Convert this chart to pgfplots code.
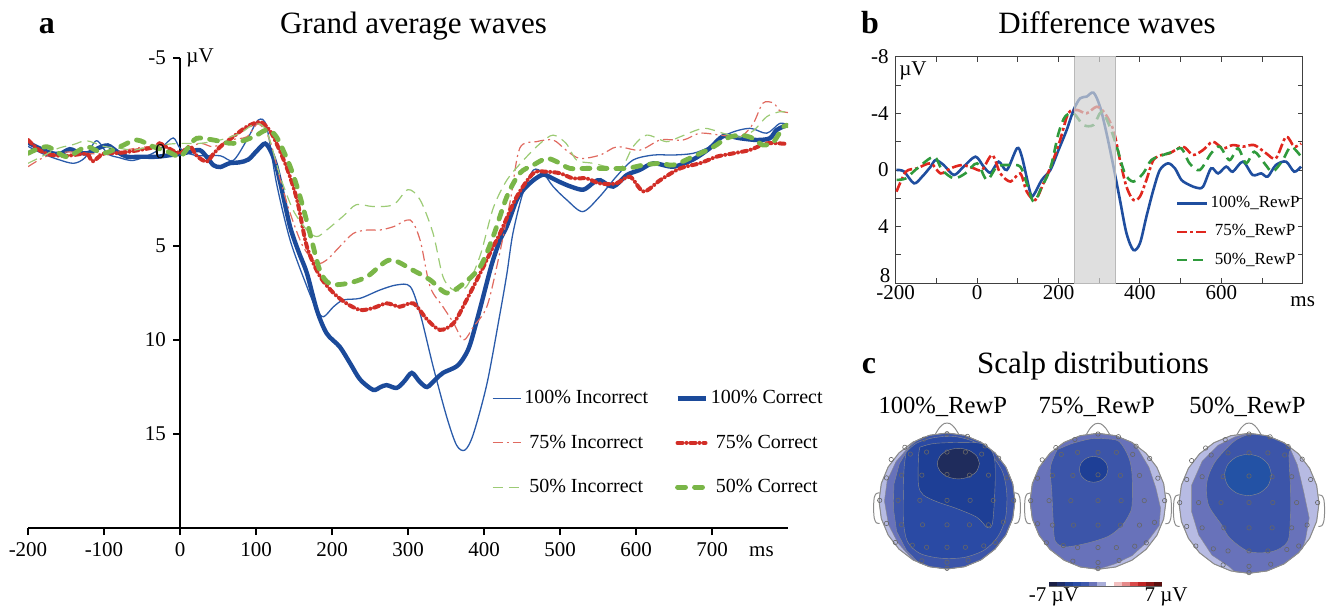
\documentclass[border=0pt]{standalone}
\usepackage{fontspec}
\setmainfont{Liberation Serif}
\usepackage{pgfplots}
\usepackage{pgfplotstable}
\pgfplotsset{compat=1.18}

\definecolor{cblue}{HTML}{1B4A9A}
\definecolor{cred}{HTML}{D22E27}
\definecolor{cgreen}{HTML}{7AB648}
\definecolor{tblue}{HTML}{2A5BAA}
\definecolor{tred}{HTML}{E06A60}
\definecolor{tgreen}{HTML}{9CCB75}
\definecolor{bblue}{HTML}{1F4E9F}
\definecolor{bred}{HTML}{E0271F}
\definecolor{bgreen}{HTML}{2F9A3C}
\definecolor{s0}{HTML}{B7BBE3}
\definecolor{s1}{HTML}{6872BA}
\definecolor{s2}{HTML}{3C55A9}
\definecolor{s3}{HTML}{2A4AA4}
\definecolor{s4}{HTML}{1E3F96}
\definecolor{s5}{HTML}{1F2C5C}
\definecolor{s6}{HTML}{2352A5}

% ---------- panel a: grand averages (ms, microvolt) ----------
\pgfplotstableread{
t v
-200 -0.3
-180 0.1
-160 0.4
-140 0.6
-125 0.3
-110 -0.6
-95 0.1
-80 0.3
-62 0.45
-40 0.15
-25 -0.2
-9 -0.75
0 -0.2
13 0.1
26 0.2
53 0.2
70 0.45
88 -0.64
103 -1.7
114 -1.35
127 1.67
145 4.7
167 7.16
180 8.4
189 8.76
202 8.23
215 7.87
237 7.78
263 7.34
285 7.07
303 7.16
316 8.6
333 11.4
351 14.1
364 15.6
375 15.85
386 15.0
404 12.3
421 8.6
430 6.5
438 4.33
451 2.2
465 0.96
478 1.13
491 1.84
509 2.55
530 3.17
552 2.38
574 1.31
596 0.43
623 0.16
649 0.16
675 0.07
697 -0.28
723 -0.99
750 -1.26
772 -1.0
789 -1.52
800 -1.44
}\dAinc

\pgfplotstableread{
t v
-200 -0.5
-185 -0.2
-170 0.05
-158 0.1
-145 -0.15
-132 0.05
-120 0.05
-108 -0.2
-95 -0.35
-82 0.0
-70 0.25
-50 0.25
-30 0.25
-10 0.15
0 0.1
12 0.0
26 -0.1
36 0.3
44 0.7
53 0.8
65 0.6
78 0.55
90 0.4
102 -0.1
112 -0.45
120 0.0
127 0.8
135 2.2
145 4.0
156 5.3
167 6.45
180 8.4
193 9.65
210 10.35
224 11.25
237 12.1
254 12.65
264 12.5
272 12.4
285 12.55
295 12.2
305 11.75
315 12.2
325 12.5
336 12.1
346 11.75
364 11.4
374 10.9
382 10.2
395 8.3
410 6.0
421 4.7
430 3.95
443 2.55
452 2.0
465 1.5
478 1.2
490 1.4
500 1.6
515 1.85
531 2.0
545 1.6
553 1.5
570 1.84
588 1.22
605 0.95
623 0.6
649 0.78
675 0.4
697 -0.2
715 -0.85
737 -0.73
759 -0.64
776 -0.73
785 -1.17
798 -1.43
}\dAcor

\pgfplotstableread{
t v
-200 0.78
-180 0.3
-160 0.05
-140 0.0
-110 0.1
-80 -0.05
-50 -0.25
-25 -0.3
0 -0.05
26 -0.46
44 -0.28
66 -0.64
88 -0.81
103 -1.5
118 -0.64
132 1.49
145 3.26
162 5.04
180 5.9
193 5.74
210 5.04
228 4.33
246 4.15
263 4.15
281 3.97
303 3.62
316 4.7
329 7.16
346 8.23
360 9.1
373 10.0
386 9.3
404 8.2
420 5.5
435 2.5
447 -0.2
469 -0.55
491 -0.64
508 -0.1
526 0.34
553 0.16
575 -0.28
605 -0.1
632 -0.64
662 -0.64
684 -1.0
711 -0.9
737 -0.81
754 -1.5
767 -2.6
781 -2.6
789 -2.2
800 -2.1
}\dBinc

\pgfplotstableread{
t v
-200 -0.64
-185 -0.1
-170 0.15
-149 0.2
-123 0.1
-115 0.5
-101 0.1
-80 0.05
-62 -0.05
-35 -0.25
-27 -0.46
-15 -0.2
0 0.07
13 -0.3
22 0.2
35 0.51
44 0.1
53 -0.28
70 -0.81
88 -1.35
105 -1.6
115 -1.3
123 -0.8
140 0.78
154 2.55
167 5.04
184 6.6
202 7.5
219 8.05
237 8.4
254 8.3
272 8.05
289 8.23
307 8.05
325 8.9
342 9.46
360 9.1
377 7.87
395 6.45
412 5.04
421 4.33
443 2.38
465 1.13
482 1.05
500 1.13
517 1.4
535 1.4
552 1.67
574 1.67
592 1.31
610 2.1
632 1.49
658 0.87
684 0.6
706 0.25
728 0.07
750 -0.11
772 -0.46
798 -0.43
}\dBcor

\pgfplotstableread{
t v
-200 0.6
-180 0.2
-160 -0.2
-140 -0.4
-123 -0.6
-100 -0.3
-80 -0.2
-60 -0.1
-40 -0.3
-20 -0.4
0 -0.46
26 -0.46
53 -0.64
79 -1.0
99 -1.5
114 -1.1
132 1.31
149 3.1
167 4.15
180 4.5
193 4.15
215 3.4
232 2.8
254 2.9
281 2.8
300 2.0
316 2.55
333 4.33
346 6.63
360 7.34
377 7.16
395 5.5
412 3.0
430 1.5
452 0.43
474 -0.46
491 -0.9
508 -0.46
522 0.43
544 0.6
579 0.85
596 -0.28
614 -0.9
640 -0.55
658 -0.81
689 -1.26
715 -0.99
737 -0.8
755 -1.15
772 -1.88
789 -2.14
800 -2.1
}\dCinc

\pgfplotstableread{
t v
-200 0.07
-175 -0.28
-149 0.25
-123 -0.28
-101 0.07
-79 -0.28
-57 -0.64
-35 -0.28
-15 0.0
0 0.25
10 -0.2
22 -0.73
44 -0.64
70 -0.46
97 -0.81
114 -1.17
127 -0.8
145 0.78
158 2.38
171 4.33
184 6.3
197 7.0
219 7.0
246 6.63
276 5.74
307 6.3
329 6.8
351 7.5
373 7.0
395 6.1
412 4.5
430 2.38
447 1.13
465 0.69
482 0.34
496 0.52
513 0.87
535 0.87
561 0.87
588 0.87
610 0.69
632 0.6
649 0.69
675 0.25
702 -0.28
719 -0.73
737 -0.9
754 -0.73
767 -0.37
781 -0.55
794 -1.35
800 -1.4
}\dCcor

% ---------- panel b: difference waves ----------
\pgfplotstableread{
t v
-198 0
-180 0.1
-155 0.94
-135 0.47
-114 -0.24
-102 -0.7
-82 -0.35
-57 0.35
-33 -0.24
-4 -0.94
16 -0.24
33 0.19
53 -0.59
73 0
98 -1.53
110 -0.94
131 1.65
139 1.76
159 0.7
180 0
200 -1.41
220 -2.82
237 -4.24
253 -5.06
269 -5.18
286 -5.46
302 -4.47
318 -2.59
335 -0.24
351 2.12
367 4.47
384 5.65
400 5.18
416 3.29
433 1.41
449 0
469 -0.47
486 -0.12
502 0.7
522 1.06
539 1.25
555 1.18
575 -0.12
592 0.24
612 -0.24
628 0.12
653 -0.59
677 0.35
698 0.24
714 0.47
734 -0.35
759 -0.59
779 0.12
796 -0.24
}\eA

\pgfplotstableread{
t v
-198 1.53
-175 0.12
-147 -0.12
-114 -0.47
-90 0.24
-65 -0.12
-37 -0.35
-8 -0.12
12 0
37 -1.06
57 0.24
82 0.82
106 0.24
122 1.53
143 2.12
163 0.94
184 -0.47
204 -2.12
224 -4.0
245 -4.24
269 -4.0
294 -4.47
314 -4.0
335 -2.82
351 -0.7
367 1.18
384 2.12
400 1.88
416 0.7
433 -0.7
453 -1.06
473 -1.18
506 -1.65
530 -1.06
555 -1.41
579 -2.0
604 -1.53
628 -1.76
653 -1.65
681 -1.76
710 -1.18
734 -0.82
759 -2.35
779 -1.65
796 -1.88
}\eB

\pgfplotstableread{
t v
-198 0.7
-175 0.59
-147 -0.12
-106 -0.94
-86 0
-57 0.59
-29 0.24
0 -0.47
24 0.7
49 -0.24
78 -0.35
106 -0.24
122 0.94
139 2.24
159 1.18
180 -0.12
200 -2.59
216 -3.76
237 -4.0
261 -3.18
286 -3.18
306 -4.12
326 -3.06
343 -1.65
363 0.24
384 0.82
408 0.24
428 -0.7
457 -1.06
481 -1.29
502 -1.53
522 -0.47
547 0
575 -1.18
596 -1.65
620 -0.7
641 -1.53
661 -0.47
681 -1.29
706 -0.47
726 0.12
751 -0.7
771 -1.65
796 -0.94
}\eC

% ---------- panel c: scalp maps (head radius = 1) ----------
\pgfplotstableread{
x y
1 0
0.966 0.259
0.866 0.5
0.707 0.707
0.5 0.866
0.259 0.966
0 1
-0.259 0.966
-0.5 0.866
-0.707 0.707
-0.866 0.5
-0.966 0.259
-1 0
-0.966 -0.259
-0.866 -0.5
-0.707 -0.707
-0.5 -0.866
-0.259 -0.966
0 -1
0.259 -0.966
0.5 -0.866
0.707 -0.707
0.866 -0.5
0.966 -0.259
1 0
}\tabHead

\pgfplotstableread{
x y
-0.99 0.12
-1.04 0.11
-1.07 0.05
-1.08 -0.1
-1.07 -0.25
-1.04 -0.32
-0.99 -0.33
}\tabEarL

\pgfplotstableread{
x y
0.99 0.12
1.04 0.11
1.07 0.05
1.08 -0.1
1.07 -0.25
1.04 -0.32
0.99 -0.33
}\tabEarR

\pgfplotstableread{
x y
-0.17 0.985
-0.11 1.08
-0.04 1.14
0.04 1.14
0.11 1.08
0.17 0.985
}\tabNose

\pgfplotstableread{
x y
-0.34 0.91
0 0.99
0.30 0.95
-0.62 0.79
0.56 0.81
-0.82 0.61
-0.54 0.69
-0.30 0.72
0 0.72
0.27 0.72
0.51 0.69
0.76 0.63
-0.89 0.34
-0.67 0.38
-0.37 0.38
0 0.39
0.33 0.38
0.61 0.38
0.88 0.34
-0.99 0.01
-0.72 0.01
-0.40 0.01
0 0.01
0.34 0.01
0.68 0.01
0.98 0.01
-0.89 -0.33
-0.67 -0.35
-0.36 -0.35
0 -0.35
0.33 -0.35
0.61 -0.35
0.83 -0.31
-0.76 -0.61
-0.51 -0.65
-0.30 -0.68
0 -0.68
0.27 -0.68
0.54 -0.66
0.71 -0.61
-0.37 -0.88
0 -0.9
0.31 -0.87
0 -0.99
}\tabElec

% head 1 (100%)
\pgfplotstableread{
x y
-0.5 0.866
-0.259 0.966
0 1
0.259 0.966
0.5 0.866
0.707 0.707
0.866 0.5
0.966 0.259
1 0
0.966 -0.259
0.866 -0.5
0.707 -0.707
0.5 -0.866
0.259 -0.966
0 -1
-0.259 -0.966
-0.5 -0.866
-0.72 -0.62
-0.86 -0.35
-0.92 0
-0.88 0.3
-0.75 0.58
-0.5 0.866
}\hAa

\pgfplotstableread{
x y
-0.42 0.907
-0.259 0.966
0 1
0.259 0.966
0.5 0.866
0.707 0.707
0.866 0.5
0.966 0.259
1 0
0.966 -0.259
0.866 -0.5
0.707 -0.707
0.5 -0.866
0.259 -0.966
0 -1
-0.259 -0.966
-0.42 -0.907
-0.6 -0.72
-0.74 -0.45
-0.79 -0.1
-0.78 0.25
-0.7 0.55
-0.55 0.8
-0.42 0.907
}\hAb

\pgfplotstableread{
x y
-0.6 0.72
-0.45 0.85
-0.2 0.93
0.1 0.95
0.4 0.87
0.65 0.68
0.82 0.42
0.88 0.1
0.86 -0.25
0.75 -0.52
0.55 -0.72
0.25 -0.83
-0.1 -0.84
-0.4 -0.77
-0.58 -0.6
-0.64 -0.3
-0.64 0.2
-0.63 0.5
-0.6 0.72
}\hAc

\pgfplotstableread{
x y
-0.40 0.79
-0.15 0.85
0.49 0.85
0.68 0.69
0.71 0.39
0.69 -0.11
0.66 -0.36
0.59 -0.39
0.44 -0.24
0.14 -0.11
-0.15 -0.01
-0.35 0.09
-0.42 0.24
-0.42 0.64
-0.40 0.79
}\hAd

\pgfplotstableread{
x y
0.477 0.55
0.435 0.663
0.322 0.745
0.167 0.775
0.012 0.745
-0.101 0.663
-0.143 0.55
-0.101 0.437
0.012 0.355
0.167 0.325
0.322 0.355
0.435 0.437
0.477 0.55
}\hAe

% head 2 (75%)
\pgfplotstableread{
x y
0.5 0.866
0.259 0.966
0 1
-0.259 0.966
-0.5 0.866
-0.707 0.707
-0.866 0.5
-0.966 0.259
-1 0
-0.966 -0.259
-0.866 -0.5
-0.707 -0.707
-0.5 -0.866
-0.259 -0.966
0 -1
0.25 -0.92
0.5 -0.8
0.72 -0.6
0.9 -0.36
0.92 -0.1
0.85 0.2
0.75 0.5
0.6 0.75
0.5 0.866
}\hBa

\pgfplotstableread{
x y
-0.6 0.76
-0.38 0.85
-0.1 0.92
0.1 0.92
0.31 0.88
0.45 0.65
0.5 0.4
0.5 -0.06
0.45 -0.21
0.35 -0.36
0.16 -0.51
-0.14 -0.61
-0.48 -0.67
-0.63 -0.58
-0.66 -0.26
-0.68 0.15
-0.70 0.5
-0.6 0.76
}\hBb

\pgfplotstableread{
x y
0.146 0.47
0.118 0.565
0.041 0.635
-0.064 0.66
-0.169 0.635
-0.246 0.565
-0.274 0.47
-0.246 0.375
-0.169 0.305
-0.064 0.28
0.041 0.305
0.118 0.375
0.146 0.47
}\hBc

% head 3 (50%)
\pgfplotstableread{
x y
-0.05 0.99
0 1
0.259 0.966
0.5 0.866
0.57 0.82
0.69 0.55
0.78 0.17
0.86 -0.21
0.81 -0.5
0.766 -0.643
0.707 -0.707
0.5 -0.866
0.259 -0.966
0 -1
-0.2 -0.98
-0.29 -0.9
-0.53 -0.74
-0.72 -0.45
-0.82 -0.12
-0.82 0.26
-0.67 0.6
-0.44 0.83
-0.2 0.95
-0.05 0.99
}\hCa

\pgfplotstableread{
x y
-0.05 0.97
-0.22 0.88
-0.48 0.6
-0.6 0.31
-0.58 -0.02
-0.39 -0.31
-0.27 -0.5
0 -0.69
0.33 -0.69
0.55 -0.55
0.59 -0.21
0.59 0.26
0.57 0.69
0.59 0.8
0.35 0.93
0.1 0.99
-0.05 0.97
}\hCb

\pgfplotstableread{
x y
0.321 0.405
0.276 0.553
0.154 0.660
-0.014 0.700
-0.182 0.660
-0.304 0.553
-0.349 0.405
-0.304 0.258
-0.182 0.150
-0.014 0.110
0.154 0.150
0.276 0.258
0.321 0.405
}\hCc

\pgfplotsset{
  headaxis/.style={hide axis, clip=false, anchor=south west,
    xmin=-1.15, xmax=1.15, ymin=-1.1, ymax=1.2},
  layer/.style={fill=#1, draw=black!45, line width=0.2pt},
  outline/.style={draw=black!45, line width=0.5pt},
}
\newcommand{\headframe}{%
  \addplot[outline] table {\tabHead};
  \addplot[outline, smooth] table {\tabEarL};
  \addplot[outline, smooth] table {\tabEarR};
  \addplot[outline, smooth] table {\tabNose};
  \addplot[only marks, mark=o, mark size=1.1pt, black!60, mark options={line width=0.3pt}] table {\tabElec};
}

\begin{document}
\begin{tikzpicture}
\path[use as bounding box] (0,0) rectangle (664pt,-303.5pt);

% ================= panel a =================
\begin{axis}[
  at={(14pt,-264pt)}, anchor=south west,
  scale only axis, width=380pt, height=235pt,
  xmin=-200, xmax=800, ymin=-5, ymax=20, y dir=reverse,
  clip mode=individual,
  axis x line=bottom, axis y line=center,
  axis line style={-, black, line width=0.7pt},
  hide obscured x ticks=false, hide obscured y ticks=false,
  xtick={-200,-100,...,700}, ytick={-5,0,5,10,15},
  tick align=outside, major tick length=3.5pt,
  tick style={black, line width=0.7pt},
  /pgf/number format/assume math mode=true,
  ticklabel style={font=\fontsize{10.5}{12}\selectfont},
  legend columns=2,
  legend image code/.code={\draw[#1] (0pt,0pt) -- (14pt,0pt);},
  legend style={draw=none, fill=none, at={(axis cs:410,12.5)}, anchor=north west,
    inner sep=0pt, font=\fontsize{10}{12}\selectfont, row sep=11pt,
    nodes={inner sep=1.5pt},
    /tikz/every even column/.append style={column sep=12pt}},
]
\addplot[tblue, line width=0.65pt, smooth] table[x=t, y=v] {\dAinc};
\addlegendentry{100\% Incorrect}
\addplot[cblue, line width=2.2pt, smooth] table[x=t, y=v] {\dAcor};
\addlegendentry{100\% Correct}
\addplot[tred, line width=0.6pt, smooth, dash pattern=on 5pt off 2pt on 1pt off 2pt] table[x=t, y=v] {\dBinc};
\addlegendentry{75\% Incorrect}
\addplot[cred, line width=2pt, smooth, line cap=round, dash pattern=on 2.5pt off 2pt on 0pt off 2pt] table[x=t, y=v] {\dBcor};
\addlegendentry{75\% Correct}
\addplot[tgreen, line width=0.6pt, smooth, dash pattern=on 5pt off 3pt] table[x=t, y=v] {\dCinc};
\addlegendentry{50\% Incorrect}
\addplot[cgreen, line width=2.4pt, smooth, line cap=round, dash pattern=on 4pt off 4.5pt] table[x=t, y=v] {\dCcor};
\addlegendentry{50\% Correct}
\node[anchor=east, inner sep=0pt, font=\fontsize{10.5}{12}\selectfont] at (axis cs:0,0) [xshift=-7pt] {0};
\node[anchor=west, inner sep=0pt, font=\fontsize{10.5}{12}\selectfont] at (axis cs:0,-5) [xshift=3pt] {µV};
\node[anchor=base, inner sep=0pt, font=\fontsize{10.5}{12}\selectfont] at (axis cs:765,20) [yshift=-14.3pt] {ms};
\end{axis}

% ================= panel b =================
\begin{axis}[
  at={(447.85pt,-141.65pt)}, anchor=south west,
  scale only axis, width=203.5pt, height=113.3pt,
  xmin=-200, xmax=800, ymin=-8, ymax=8, y dir=reverse,
  clip mode=individual,
  xtick={-200,0,...,600}, minor xtick={-100,100,300,500,700},
  ytick={-8,-4,...,8}, yticklabels={-8,-4,0,4,{}}, minor ytick={-6,-2,2,6},
  tick align=inside, major tick length=2.5pt, minor tick length=2.5pt,
  axis line style={black!75, line width=0.5pt},
  every tick/.style={black!75, line width=0.5pt},
  /pgf/number format/assume math mode=true,
  ticklabel style={font=\fontsize{10.5}{12}\selectfont},
  xticklabel style={inner sep=1pt},
  legend image code/.code={\draw[#1] (0pt,0pt) -- (15pt,0pt);},
  legend style={draw=none, fill=none, at={(axis cs:488,1.69)}, anchor=north west,
    inner sep=0pt, font=\fontsize{8.5}{10}\selectfont, row sep=5pt,
    nodes={inner sep=1pt}},
]
\addplot[bblue, line width=1.3pt, smooth] table[x=t, y=v] {\eA};
\addlegendentry{100\%\_RewP}
\addplot[bred, line width=1.3pt, smooth, dash pattern=on 5pt off 1.5pt on 1.5pt off 1.5pt] table[x=t, y=v] {\eB};
\addlegendentry{75\%\_RewP}
\addplot[bgreen, line width=1.3pt, smooth, dash pattern=on 5pt off 3pt] table[x=t, y=v] {\eC};
\addlegendentry{50\%\_RewP}
\addplot[fill=gray!35, draw=gray!55, fill opacity=0.7, forget plot] coordinates {(240,-8) (340,-8) (340,8) (240,8) (240,-8)};
\node[anchor=east, inner sep=0pt, font=\fontsize{10.5}{12}\selectfont] at (axis cs:-200,8) [xshift=-2.5pt, yshift=3.6pt] {8};
\node[anchor=base west, inner sep=0pt, font=\fontsize{10.5}{12}\selectfont] at (axis cs:-192,-6.7) {µV};
\node[anchor=base, inner sep=0pt, font=\fontsize{10.5}{12}\selectfont] at (axis cs:800,8) [yshift=-11.5pt] {ms};
\end{axis}

% ================= panel c =================
\begin{axis}[headaxis, at={(434.4pt,-287.9pt)}, x=34pt, y=34pt]
\addplot[layer=s0] table {\tabHead};
\addplot[layer=s1] table {\hAa};
\addplot[layer=s2] table {\hAb};
\addplot[layer=s3, smooth] table {\hAc};
\addplot[layer=s4, smooth] table {\hAd};
\addplot[layer=s5, smooth] table {\hAe};
\headframe
\end{axis}

\begin{axis}[headaxis, at={(509.9pt,-288.05pt)}, x=34pt, y=34pt]
\addplot[layer=s0] table {\tabHead};
\addplot[layer=s1] table {\hBa};
\addplot[layer=s2, smooth] table {\hBb};
\addplot[layer=s4, smooth] table {\hBc};
\headframe
\end{axis}

\begin{axis}[headaxis, at={(584.25pt,-290.15pt)}, x=35pt, y=35pt]
\addplot[layer=s0] table {\tabHead};
\addplot[layer=s1] table {\hCa};
\addplot[layer=s2, smooth] table {\hCb};
\addplot[layer=s6, smooth] table {\hCc};
\headframe
\end{axis}

% colour key
\begin{axis}[hide axis, clip=false, anchor=south west, at={(524.5pt,-293.35pt)},
  x=4.036pt, y=2.5pt, xmin=0, xmax=14, ymin=0, ymax=1]
\addplot[fill={rgb,255:red,26;green,31;blue,69}, draw=none] coordinates {(0,0) (1,0) (1,1) (0,1)};
\addplot[fill={rgb,255:red,30;green,46;blue,106}, draw=none] coordinates {(1,0) (2,0) (2,1) (1,1)};
\addplot[fill={rgb,255:red,32;green,63;blue,143}, draw=none] coordinates {(2,0) (3,0) (3,1) (2,1)};
\addplot[fill={rgb,255:red,42;green,76;blue,165}, draw=none] coordinates {(3,0) (4,0) (4,1) (3,1)};
\addplot[fill={rgb,255:red,61;green,88;blue,173}, draw=none] coordinates {(4,0) (5,0) (5,1) (4,1)};
\addplot[fill={rgb,255:red,106;green,116;blue,186}, draw=none] coordinates {(5,0) (6,0) (6,1) (5,1)};
\addplot[fill={rgb,255:red,169;green,174;blue,217}, draw=none] coordinates {(6,0) (7,0) (7,1) (6,1)};
\addplot[fill=white, draw=none] coordinates {(7,0) (8,0) (8,1) (7,1)};
\addplot[fill={rgb,255:red,242;green,192;blue,192}, draw=none] coordinates {(8,0) (9,0) (9,1) (8,1)};
\addplot[fill={rgb,255:red,229;green,138;blue,138}, draw=none] coordinates {(9,0) (10,0) (10,1) (9,1)};
\addplot[fill={rgb,255:red,217;green,74;blue,74}, draw=none] coordinates {(10,0) (11,0) (11,1) (10,1)};
\addplot[fill={rgb,255:red,192;green,37;blue,37}, draw=none] coordinates {(11,0) (12,0) (12,1) (11,1)};
\addplot[fill={rgb,255:red,142;green,24;blue,24}, draw=none] coordinates {(12,0) (13,0) (13,1) (12,1)};
\addplot[fill={rgb,255:red,90;green,15;blue,15}, draw=none] coordinates {(13,0) (14,0) (14,1) (13,1)};
\draw[black!60, line width=0.3pt] (axis cs:0,0) -- (axis cs:14,0);
\node[anchor=base, inner sep=0pt, font=\fontsize{10.5}{12}\selectfont] at (axis cs:0.6,0) [yshift=-7.5pt] {-7 µV};
\node[anchor=base, inner sep=0pt, font=\fontsize{10.5}{12}\selectfont] at (axis cs:14.5,0) [yshift=-7.5pt] {7 µV};
\end{axis}

% titles and panel letters
\node[anchor=base, font=\fontsize{16}{18}\selectfont\bfseries] at (23.5pt,-16.65pt) {a};
\node[anchor=base, font=\fontsize{15.5}{18}\selectfont] at (206.75pt,-16.65pt) {Grand average waves};
\node[anchor=base, font=\fontsize{16}{18}\selectfont\bfseries] at (435pt,-16.65pt) {b};
\node[anchor=base, font=\fontsize{15.5}{18}\selectfont] at (553.5pt,-16.65pt) {Difference waves};
\node[anchor=base, font=\fontsize{16}{18}\selectfont\bfseries] at (434.5pt,-186.65pt) {c};
\node[anchor=base, font=\fontsize{15.5}{18}\selectfont] at (546.5pt,-186.65pt) {Scalp distributions};
\node[anchor=base, font=\fontsize{12.3}{14}\selectfont] at (471.4pt,-206.65pt) {100\%\_RewP};
\node[anchor=base, font=\fontsize{12.3}{14}\selectfont] at (548.35pt,-206.65pt) {75\%\_RewP};
\node[anchor=base, font=\fontsize{12.3}{14}\selectfont] at (623.75pt,-206.65pt) {50\%\_RewP};
\end{tikzpicture}
\end{document}
